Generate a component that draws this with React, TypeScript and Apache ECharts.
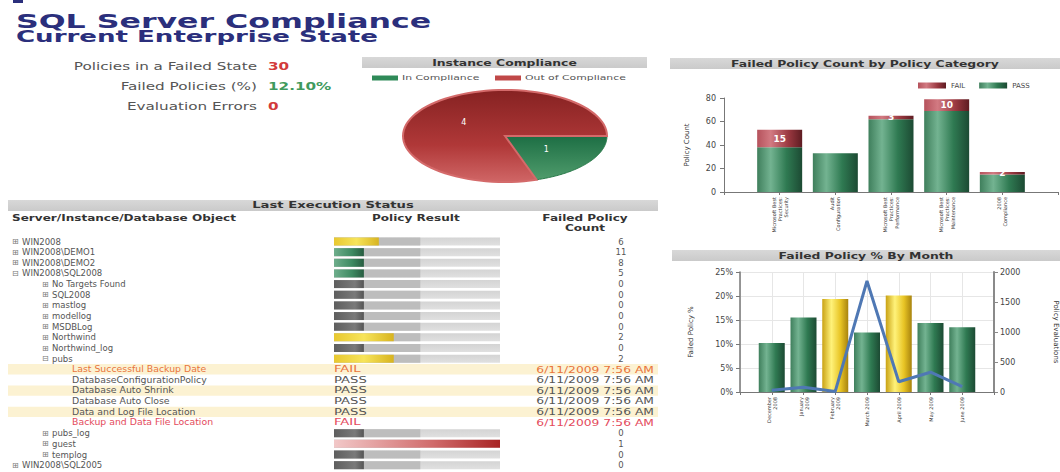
import React, { useEffect, useRef } from 'react';
import * as echarts from 'echarts';

const FONT = 'DejaVu Sans';

// ---------- data ----------
const titleMain = 'SQL Server Compliance';
const titleSub = 'Current Enterprise State';

const kpiLabels = ['Policies in a Failed State', 'Failed Policies (%)', 'Evaluation Errors'];
const kpiValues = ['30', '12.10%', '0'];
const kpiGood = [false, true, false];

const pieNames = ['In Compliance', 'Out of Compliance'];
const pieValues = [1, 4];

const categoryNames = [
  'Microsoft Best\nPractices:\nSecurity',
  'Audit\nConfiguration',
  'Microsoft Best\nPractices:\nPerformance',
  'Microsoft Best\nPractices:\nMaintenance',
  '2008\nCompliance',
];
const passCounts = [38, 33, 62, 69, 15];
const failCounts = [15, 0, 3, 10, 2];

const months = ['December\n2008', 'January\n2009', 'February\n2009', 'March 2009', 'April 2009', 'May 2009', 'June 2009'];
const failedPct = [10.2, 15.5, 19.4, 12.4, 20.1, 14.4, 13.5];
const evaluations = [30, 80, 10, 1850, 170, 330, 90];

const rowLabels = [
  'WIN2008', 'WIN2008\\DEMO1', 'WIN2008\\DEMO2', 'WIN2008\\SQL2008',
  'No Targets Found', 'SQL2008', 'mastlog', 'modellog', 'MSDBLog', 'Northwind', 'Northwind_log', 'pubs',
  'Last Successful Backup Date', 'DatabaseConfigurationPolicy', 'Database Auto Shrink', 'Database Auto Close',
  'Data and Log File Location', 'Backup and Data File Location',
  'pubs_log', 'guest', 'templog', 'WIN2008\\SQL2005',
];
const rowLevels = [0, 0, 0, 0, 1, 1, 1, 1, 1, 1, 1, 1, 2, 2, 2, 2, 2, 2, 1, 1, 1, 0];
const rowExpanded = [false, false, false, true, false, false, false, false, false, false, false, true,
  false, false, false, false, false, false, false, false, false, false];
const resultValues: (number | null)[] = [27, 18, 18, 18, 18, 18, 18, 18, 18, 36, 18, 36,
  null, null, null, null, null, null, 18, 100, 18, 18];
const resultStatus = ['warn', 'ok', 'ok', 'ok', 'none', 'none', 'none', 'none', 'none', 'warn', 'none', 'warn',
  '', '', '', '', '', '', 'none', 'error', 'none', 'none'];
const failedPolicyCounts: (number | null)[] = [6, 11, 8, 5, 0, 0, 0, 0, 0, 2, 0, 2,
  null, null, null, null, null, null, 0, 1, 0, 0];
const policyResults = ['FAIL', 'PASS', 'PASS', 'PASS', 'PASS', 'FAIL'];
const policyTimes = ['6/11/2009 7:56 AM', '6/11/2009 7:56 AM', '6/11/2009 7:56 AM',
  '6/11/2009 7:56 AM', '6/11/2009 7:56 AM', '6/11/2009 7:56 AM'];

// ---------- styles ----------
const NAVY = '#2b2f7c';
const lg = (stops: [number, string][], vertical = false) =>
  new echarts.graphic.LinearGradient(0, 0, vertical ? 0 : 1, vertical ? 1 : 0,
    stops.map(([offset, color]) => ({ offset, color })));
const greenBar = () => lg([[0, '#3f7f5c'], [0.3, '#73b391'], [0.65, '#2f7a52'], [1, '#1c4a33']]);
const redBar = () => lg([[0, '#b5525c'], [0.3, '#d27a82'], [0.7, '#9a3840'], [1, '#5e1c22']]);
const yellowBar = () => lg([[0, '#c9a214'], [0.35, '#fff27a'], [0.7, '#e8c424'], [1, '#a8830e']]);
const statusFill = (s: string) => {
  if (s === 'warn') return lg([[0, '#e8c830'], [0.5, '#f7e45a'], [1, '#d8b420']]);
  if (s === 'ok') return lg([[0, '#6fae8c'], [0.6, '#3e8a62'], [1, '#275c40']]);
  if (s === 'error') return lg([[0, '#f2c8c8'], [0.6, '#d06a6a'], [1, '#a82424']]);
  return lg([[0, '#5e5e5e'], [0.7, '#7a7a7a'], [1, '#555555']]);
};

const ROW0 = 241.5;
const ROWH = 10.65;

function txt(text: string, x: number, y: number, o: any = {}) {
  return {
    type: 'text', x, y, scaleX: o.scaleX ?? 1, z: 10,
    style: {
      text, fill: o.fill ?? '#555', fontFamily: FONT, fontSize: o.size ?? 8.5,
      fontWeight: o.weight ?? 'normal', align: o.align ?? 'left', verticalAlign: 'middle',
    },
  };
}

function buildGraphic() {
  const g: any[] = [];
  g.push({ type: 'rect', shape: { x: 13, y: 0, width: 10, height: 3 }, style: { fill: NAVY } });
  g.push(txt(titleMain, 16, 20.5, { size: 20, weight: 'bold', fill: NAVY, scaleX: 1.58 }));
  g.push(txt(titleSub, 16, 36, { size: 16.5, weight: 'bold', fill: NAVY, scaleX: 1.58 }));
  kpiLabels.forEach((l, i) => {
    const y = 66 + i * 20;
    g.push(txt(l, 257, y, { size: 10.5, align: 'right', fill: '#555', scaleX: 1.45 }));
    g.push(txt(kpiValues[i], 268, y, { size: 10.5, weight: 'bold', fill: kpiGood[i] ? '#3f9a5e' : '#d23a3a', scaleX: 1.45 }));
  });
  // panel headers
  const header = (x: number, y: number, w: number, t: string, size = 8) => {
    g.push({ type: 'rect', shape: { x, y, width: w, height: 11 }, style: { fill: lg([[0, '#d8d8d8'], [1, '#cacaca']], true) } });
    g.push(txt(t, x + w / 2, y + 5.5, { size, weight: 'bold', align: 'center', fill: '#333', scaleX: 1.55 }));
  };
  header(362, 57, 285, 'Instance Compliance');
  header(670, 58, 390, 'Failed Policy Count by Policy Category');
  header(672, 250, 388, 'Failed Policy % By Month');
  header(8, 200, 650, 'Last Execution Status', 8.5);
  // pie legend
  const pieLegendX = [372, 495];
  pieNames.forEach((n, i) => {
    g.push({ type: 'rect', shape: { x: pieLegendX[i], y: 75.5, width: 26, height: 5 },
      style: { fill: i === 0 ? '#2f8a58' : '#c04848' } });
    g.push(txt(n, pieLegendX[i] + 30, 78, { size: 7, fill: '#555', scaleX: 1.55 }));
  });
  // table column headers
  const hs = { size: 8.5, weight: 'bold', fill: '#333', scaleX: 1.42 };
  g.push(txt('Server/Instance/Database Object', 12, 218, hs));
  g.push(txt('Policy Result', 372, 218, hs));
  g.push(txt('Failed Policy', 585, 218, { ...hs, align: 'center' }));
  g.push(txt('Count', 585, 228, { ...hs, align: 'center' }));
  // rows
  let p = 0;
  rowLabels.forEach((label, i) => {
    const y = ROW0 + ROWH * i;
    const lvl = rowLevels[i];
    if (lvl === 2) {
      const fail = policyResults[p] === 'FAIL';
      const col = fail ? (p === 0 ? '#e8743c' : '#e44a5c') : '#555';
      if (p % 2 === 0) {
        g.push({ type: 'rect', z: 1, shape: { x: 8, y: y - 5.2, width: 650, height: 10.4 }, style: { fill: '#fcf2d2' } });
      }
      g.push(txt(label, 72, y, { fill: col, scaleX: 1.1 }));
      g.push(txt(policyResults[p], 334, y, { fill: col, scaleX: 1.55 }));
      g.push(txt(policyTimes[p], 654, y, { fill: col, align: 'right', scaleX: 1.45 }));
      p++;
    } else {
      const ix = lvl === 0 ? 12 : 42;
      g.push(txt(rowExpanded[i] ? '\u229F' : '\u229E', ix, y, { size: 8, fill: '#777' }));
      g.push(txt(label, ix + 10, y, { fill: '#555' }));
      const c = failedPolicyCounts[i];
      if (c !== null) g.push(txt(String(c), 621, y, { fill: '#555', align: 'center' }));
    }
  });
  return g;
}

const pieTotal = pieValues.reduce((a, b) => a + b, 0);
const PIE = { cx: 505, cy: 136, rx: 102, ry: 46 };

function renderPie(params: any) {
  const i = params.dataIndex;
  const before = pieValues.slice(0, i).reduce((a, b) => a + b, 0);
  const start = (before / pieTotal) * Math.PI * 2;
  const end = ((before + pieValues[i]) / pieTotal) * Math.PI * 2;
  const pts: number[][] = [[PIE.cx, PIE.cy]];
  const N = 80;
  for (let k = 0; k <= N; k++) {
    const a = start + ((end - start) * k) / N;
    pts.push([PIE.cx + PIE.rx * Math.cos(a), PIE.cy + PIE.ry * Math.sin(a)]);
  }
  const mid = (start + end) / 2;
  const isIn = i === 0;
  return {
    type: 'group',
    children: [
      {
        type: 'polygon', shape: { points: pts },
        style: {
          fill: isIn ? lg([[0, '#1d6e44'], [1, '#4f9c6c']], true) : lg([[0, '#862222'], [0.6, '#b03838'], [1, '#d06666']], true),
          stroke: isIn ? '#2a7a4a' : '#d46a6a', lineWidth: isIn ? 1 : 2,
        },
      },
      {
        type: 'text', x: PIE.cx + PIE.rx * 0.5 * Math.cos(mid), y: PIE.cy + PIE.ry * 0.5 * Math.sin(mid),
        style: { text: String(pieValues[i]), fill: '#fff', fontSize: 8, fontFamily: FONT, align: 'center', verticalAlign: 'middle' },
      },
    ],
  };
}

const pad = <T,>(arr: T[], v: any) => [v, ...arr, v];

export default function App() {
  const ref = useRef<HTMLDivElement>(null);
  useEffect(() => {
    document.body.style.margin = '0';
    const chart = echarts.init(ref.current!, undefined, { renderer: 'svg' });
    const axisLbl = { fontFamily: FONT, color: '#444', fontSize: 8 };
    chart.setOption({
      animation: false,
      textStyle: { fontFamily: FONT },
      graphic: buildGraphic(),
      legend: [{
        data: ['FAIL', 'PASS'], left: 913, top: 77, itemWidth: 28, itemHeight: 6, itemGap: 14,
        icon: 'rect', textStyle: { fontSize: 7, color: '#444', fontFamily: FONT },
      }],
      grid: [
        { left: 724, right: 2, top: 98, bottom: 280 },
        { left: 740, right: 65, top: 272, bottom: 80 },
        { left: 334, width: 166, top: ROW0 - ROWH / 2, height: ROWH * rowLabels.length },
      ],
      xAxis: [
        {
          gridIndex: 0, type: 'category', boundaryGap: false, data: pad(categoryNames, ''),
          axisLine: { lineStyle: { color: '#777' } }, axisTick: { show: true, length: 3, lineStyle: { color: '#777' } },
          axisLabel: { rotate: 90, fontSize: 5, lineHeight: 6, color: '#333', interval: 0, margin: 5, fontFamily: FONT },
        },
        {
          gridIndex: 1, type: 'category', boundaryGap: false, data: pad(months, ''),
          axisLine: { lineStyle: { color: '#777' } }, axisTick: { show: true, length: 3, lineStyle: { color: '#777' } },
          axisLabel: { rotate: 90, fontSize: 5, lineHeight: 6, color: '#333', interval: 0, margin: 5, fontFamily: FONT },
          splitLine: { show: true, lineStyle: { color: '#e6e6e6' } },
        },
        { gridIndex: 2, type: 'value', min: 0, max: 100, show: false },
      ],
      yAxis: [
        {
          gridIndex: 0, type: 'value', min: 0, max: 80, interval: 20,
          name: 'Policy Count', nameLocation: 'middle', nameGap: 34,
          nameTextStyle: { fontSize: 7, color: '#333', fontFamily: FONT },
          axisLine: { show: true, lineStyle: { color: '#777' } }, axisTick: { show: true, length: 4 },
          axisLabel: { ...axisLbl, margin: 8 }, splitLine: { show: false },
        },
        {
          gridIndex: 1, type: 'value', min: 0, max: 25, interval: 5,
          name: 'Failed Policy %', nameLocation: 'middle', nameGap: 46,
          nameTextStyle: { fontSize: 7, color: '#333', fontFamily: FONT },
          axisLine: { show: true, lineStyle: { color: '#777', width: 1.5 } }, axisTick: { show: true, length: 4 },
          axisLabel: { ...axisLbl, formatter: '{value}%', margin: 7 },
          splitLine: { show: true, lineStyle: { color: '#e6e6e6' } },
        },
        {
          gridIndex: 1, type: 'value', min: 0, max: 2000, interval: 500, position: 'right',
          name: 'Policy Evaluations', nameLocation: 'middle', nameGap: 58, nameRotate: -90,
          nameTextStyle: { fontSize: 7, color: '#333', fontFamily: FONT },
          axisLine: { show: true, lineStyle: { color: '#8a8a8a', width: 2 } }, axisTick: { show: true, length: 4 },
          axisLabel: { ...axisLbl, margin: 6, formatter: (v: number) => String(v) }, splitLine: { show: false },
        },
        { gridIndex: 2, type: 'category', inverse: true, data: rowLabels, show: false },
      ],
      series: [
        {
          type: 'custom', name: 'Instance Compliance', coordinateSystem: 'none', silent: true,
          data: pieValues, renderItem: renderPie,
        },
        {
          name: 'PASS', type: 'bar', stack: 'cat', xAxisIndex: 0, yAxisIndex: 0, barWidth: 45,
          data: pad(passCounts, null), itemStyle: { color: greenBar() },
        },
        {
          name: 'FAIL', type: 'bar', stack: 'cat', xAxisIndex: 0, yAxisIndex: 0, barWidth: 45,
          data: pad(failCounts, null), itemStyle: { color: redBar() },
          label: {
            show: true, position: 'inside', color: '#fff', fontSize: 9, fontWeight: 'bold', fontFamily: FONT,
            formatter: (pp: any) => (pp.value ? String(pp.value) : ''),
          },
        },
        {
          name: 'Failed Policy %', type: 'bar', xAxisIndex: 1, yAxisIndex: 1, barWidth: 26,
          data: pad(failedPct, null),
          itemStyle: { color: (pp: any) => (pp.value > 18 ? yellowBar() : greenBar()) },
        },
        {
          name: 'Policy Evaluations', type: 'line', xAxisIndex: 1, yAxisIndex: 2,
          data: pad(evaluations, null), showSymbol: false, symbol: 'none',
          lineStyle: { color: '#4f78b4', width: 3 }, itemStyle: { color: '#4f78b4' },
        },
        {
          name: 'trackLight', type: 'bar', xAxisIndex: 2, yAxisIndex: 3, barWidth: 8, barGap: '-100%', silent: true,
          data: resultValues.map((v) => (v === null ? null : 100)),
          itemStyle: { color: lg([[0, '#d4d4d4'], [1, '#e0e0e0']], true) },
        },
        {
          name: 'trackMid', type: 'bar', xAxisIndex: 2, yAxisIndex: 3, barWidth: 8, barGap: '-100%', silent: true,
          data: resultValues.map((v) => (v === null ? null : 52)),
          itemStyle: { color: '#bdbdbd' },
        },
        {
          name: 'Policy Result', type: 'bar', xAxisIndex: 2, yAxisIndex: 3, barWidth: 8, barGap: '-100%', silent: true,
          data: resultValues,
          itemStyle: { color: (pp: any) => statusFill(resultStatus[pp.dataIndex]) },
        },
      ],
    });
    return () => chart.dispose();
  }, []);
  return <div ref={ref} style={{ position: 'absolute', left: 0, top: 0, width: 1060, height: 472, background: '#fff' }} />;
}
